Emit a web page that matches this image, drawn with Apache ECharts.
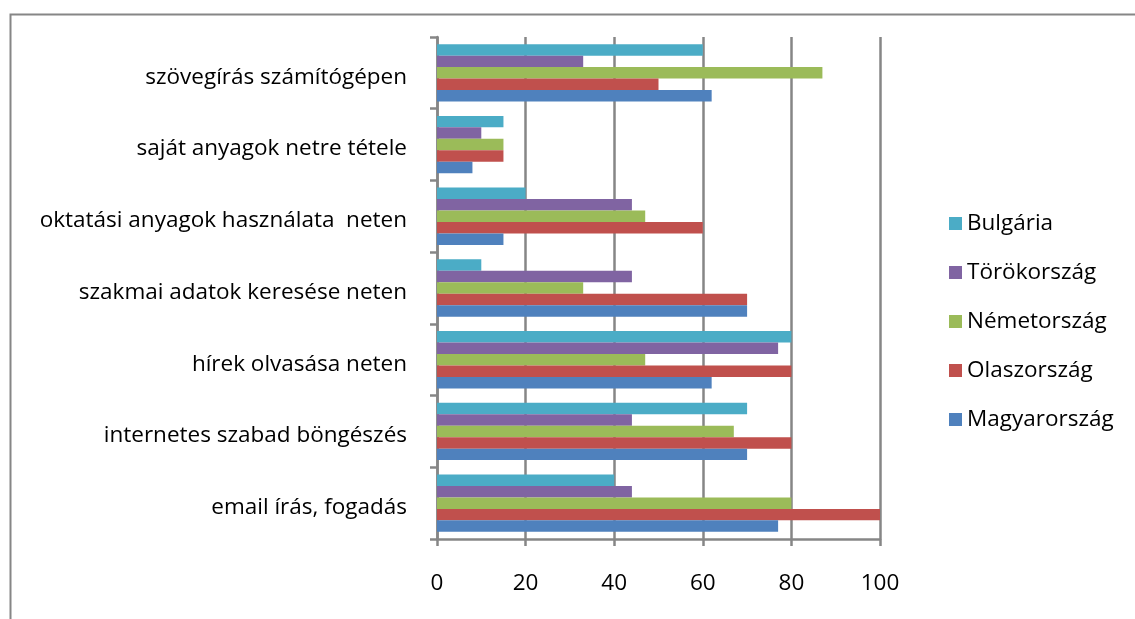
<!DOCTYPE html>
<html>
<head>
<meta charset="utf-8">
<script src="https://cdn.jsdelivr.net/npm/echarts@6/dist/echarts.min.js"></script>
<style>
html,body{margin:0;padding:0;background:#fff;}
#chart{width:1135px;height:619px;}
</style>
</head>
<body>
<div id="chart"></div>
<script>
const categories = [
  'email írás, fogadás',
  'internetes szabad böngészés',
  'hírek olvasása neten',
  'szakmai adatok keresése neten',
  'oktatási anyagok használata  neten',
  'saját anyagok netre tétele',
  'szövegírás számítógépen'
];
const seriesNames = ['Magyarország', 'Olaszország', 'Németország', 'Törökország', 'Bulgária'];
const magyarorszag = [77, 70, 62, 70, 15, 8, 62];
const olaszorszag  = [100, 80, 80, 70, 60, 15, 50];
const nemetorszag  = [80, 67, 47, 33, 47, 15, 87];
const torokorszag  = [44, 44, 77, 44, 44, 10, 33];
const bulgaria     = [40, 70, 80, 10, 20, 15, 60];
const xTicks = [0, 20, 40, 60, 80, 100];

const colors = ['#4F81BD', '#C0504D', '#9BBB59', '#8064A2', '#4BACC6'];
const values = [magyarorszag, olaszorszag, nemetorszag, torokorszag, bulgaria];
const FONT = '"Open Sans", sans-serif';
const FS = 22.5;

// ECharts stacks horizontal-bar series top-to-bottom, so feed them reversed
const order = [4, 3, 2, 1, 0];

const chart = echarts.init(document.getElementById('chart'), null, {renderer: 'canvas'});
chart.setOption({
  animation: false,
  backgroundColor: '#fff',
  graphic: [{
    type: 'rect', left: 8, top: 12, silent: true,
    shape: {x: 0, y: 0, width: 1200, height: 700},
    style: {fill: 'none', stroke: '#868686', lineWidth: 2}
  }],
  grid: {left: 437, right: 255, top: 37, bottom: 80, containLabel: false},
  xAxis: {
    type: 'value', min: xTicks[0], max: xTicks[xTicks.length - 1], interval: xTicks[1] - xTicks[0],
    axisLine: {show: true, lineStyle: {color: '#868686', width: 2.5}},
    axisTick: {show: true, length: 7, lineStyle: {color: '#868686', width: 2.5}},
    splitLine: {show: true, lineStyle: {color: '#868686', width: 2.5}},
    axisLabel: {color: '#000', fontFamily: FONT, fontSize: FS, margin: 33}
  },
  yAxis: {
    type: 'category', data: categories,
    axisLine: {show: true, lineStyle: {color: '#868686', width: 2.5}},
    axisTick: {show: true, length: 7, lineStyle: {color: '#868686', width: 2.5}},
    axisLabel: {color: '#000', fontFamily: FONT, fontSize: FS, margin: 30, verticalAlign: 'top', lineHeight: 9}
  },
  legend: {
    orient: 'vertical', left: 944, top: 207,
    data: seriesNames.slice().reverse(),
    icon: 'rect', itemWidth: 13, itemHeight: 13, itemGap: 26,
    textStyle: {color: '#000', fontFamily: FONT, fontSize: FS, lineHeight: 22}
  },
  series: order.map(i => ({
    name: seriesNames[i], type: 'bar', data: values[i],
    barGap: '0%', barCategoryGap: '20%',
    itemStyle: {color: colors[i]}
  }))
});
</script>
</body>
</html>
